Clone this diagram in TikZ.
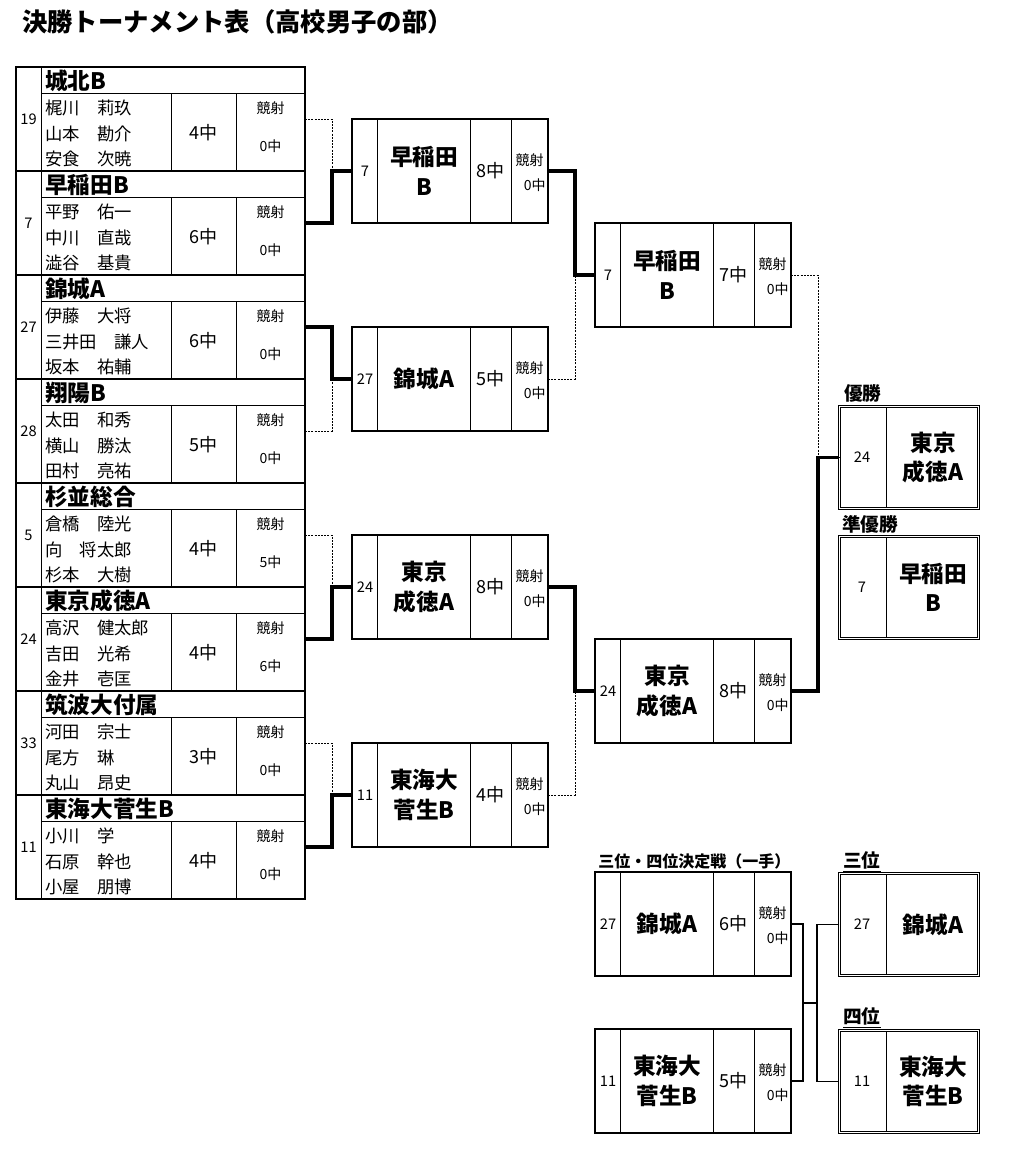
\documentclass[tikz,border=0pt]{standalone}
\usepackage{fontspec}
\setmainfont{Noto Sans CJK JP}
\tikzset{
  blk/.style={draw,line width=1.7pt,inner sep=0pt,outer sep=0pt},
  dbl/.style={draw,line width=0.65pt,double,double distance=0.9pt,inner sep=0pt,outer sep=0pt,minimum width=104.3pt,minimum height=76.5pt},
  inrule/.style={line width=0.7pt},
  win/.style={line width=2.6pt},
  lose/.style={line width=0.65pt,dash pattern=on 1.5pt off 0.9pt},
  third/.style={line width=1.4pt},
  seed/.style={inner sep=0pt,font=\fontsize{11}{12}\selectfont},
  tname/.style={anchor=west,inner sep=0pt,font=\bfseries\fontsize{17}{18}\selectfont},
  pname/.style={anchor=west,inner sep=0pt,font=\fontsize{13}{15}\selectfont},
  hits/.style={inner sep=0pt,font=\fontsize{13.5}{15}\selectfont},
  shoot/.style={inner sep=0pt,font=\fontsize{10.5}{12}\selectfont},
  mname/.style={inner sep=0pt,align=center,font=\bfseries\fontsize{17}{22}\selectfont},
  headlbl/.style={anchor=west,inner sep=0pt,font=\bfseries\fontsize{14}{16}\selectfont}
}
\newcommand\teamblock[9]{%
  \node[blk,minimum width=216.75pt,minimum height=78pt] (#1) at (160.5,#2+52) {};
  \draw[inrule] (41,#2) -- (41,#2+104) (41,#2+26) -- (305,#2+26)
    (171,#2+26) -- (171,#2+104) (236,#2+26) -- (236,#2+104);
  \node[seed] (#1-s) at (28.5,#2+52) {#3};
  \node[tname] (#1-t) at (45,#2+13.5) {#4};
  \node[pname] (#1-a) at (45,#2+41) {#5};
  \node[pname] (#1-b) at (45,#2+66.5) {#6};
  \node[pname] (#1-c) at (45,#2+92) {#7};
  \node[hits] (#1-h) at (203.5,#2+66) {#8};
  \node[shoot] (#1-k) at (270.5,#2+41) {競射};
  \node[shoot] (#1-o) at (270.5,#2+79) {#9};
}
\newcommand\matchbox[7]{%
  \node[blk,minimum width=147pt,minimum height=78pt] (#1) at (#2+98,#3+52) {};
  \draw[inrule] (#2+25.5,#3) -- ++(0,104) (#2+118,#3) -- ++(0,104) (#2+159,#3) -- ++(0,104);
  \node[seed] (#1-s) at (#2+13,#3+52) {#4};
  \node[mname] (#1-t) at (#2+72,#3+52) {#5};
  \node[hits] (#1-h) at (#2+138.5,#3+52) {#6};
  \node[shoot] (#1-k) at (#2+177.5,#3+41) {競射};
  \node[shoot,anchor=east] (#1-o) at (#2+194,#3+66) {#7};
}
\newcommand\placebox[5]{%
  \draw[inrule] (#2+48,#3) -- ++(0,105);
  \node[dbl] (#1) at (#2+71,#3+52.5) {};
  \node[seed] (#1-s) at (#2+24,#3+52.5) {#4};
  \node[mname] (#1-t) at (#2+95,#3+52.5) {#5};
}
\begin{document}
\begin{tikzpicture}[x=0.75pt,y=-0.75pt]
\useasboundingbox (0,0) rectangle (1018,1160);
\node[anchor=west,inner sep=0pt,font=\bfseries\fontsize{19}{21}\selectfont] (title) at (22,22) {決勝トーナメント表（高校男子の部）};
\teamblock{t1}{67}{19}{城北B}{梶川　莉玖}{山本　勘介}{安食　次暁}{4中}{0中}
\teamblock{t2}{171}{7}{早稲田B}{平野　佑一}{中川　直哉}{澁谷　基貴}{6中}{0中}
\teamblock{t3}{275}{27}{錦城A}{伊藤　大将}{三井田　謙人}{坂本　祐輔}{6中}{0中}
\teamblock{t4}{379}{28}{翔陽B}{太田　和秀}{横山　勝汰}{田村　亮祐}{5中}{0中}
\teamblock{t5}{483}{5}{杉並総合}{倉橋　陸光}{向　将太郎}{杉本　大樹}{4中}{5中}
\teamblock{t6}{587}{24}{東京成徳A}{高沢　健太郎}{吉田　光希}{金井　壱匡}{4中}{6中}
\teamblock{t7}{691}{33}{筑波大付属}{河田　宗士}{尾方　琳}{丸山　昂史}{3中}{0中}
\teamblock{t8}{795}{11}{東海大菅生B}{小川　学}{石原　幹也}{小屋　朋博}{4中}{0中}
\matchbox{r1}{352}{119}{7}{早稲田\\B}{8中}{0中}
\matchbox{r2}{352}{327}{27}{錦城A}{5中}{0中}
\matchbox{r3}{352}{535}{24}{東京\\成徳A}{8中}{0中}
\matchbox{r4}{352}{743}{11}{東海大\\菅生B}{4中}{0中}
\matchbox{s1}{595}{223}{7}{早稲田\\B}{7中}{0中}
\matchbox{s2}{595}{639}{24}{東京\\成徳A}{8中}{0中}
\matchbox{m1}{595}{872}{27}{錦城A}{6中}{0中}
\matchbox{m2}{595}{1029}{11}{東海大\\菅生B}{5中}{0中}
\placebox{w}{838}{405}{24}{東京\\成徳A}
\placebox{ru}{838}{535}{7}{早稲田\\B}
\placebox{p3}{838}{872}{27}{錦城A}
\placebox{p4}{838}{1029}{11}{東海大\\菅生B}
\node[headlbl] (winlbl) at (844,393) {優勝};
\node[headlbl] (rulbl) at (842,524) {準優勝};
\node[headlbl,font=\bfseries\fontsize{12}{14}\selectfont] (mlbl) at (598,861) {三位・四位決定戦（一手）};
\node[headlbl] (p3lbl) at (843,862) {\underline{三位}};
\node[headlbl] (p4lbl) at (843,1018) {\underline{四位}};
\draw[lose] (t1.east) -- ++(27,0) |- (r1.west);
\draw[lose] (t4.east) -- ++(27,0) |- (r2.west);
\draw[lose] (t5.east) -- ++(27,0) |- (r3.west);
\draw[lose] (t7.east) -- ++(27,0) |- (r4.west);
\draw[win] (t2.east) -- ++(27,0) |- (r1.west);
\draw[win] (t3.east) -- ++(27,0) |- (r2.west);
\draw[win] (t6.east) -- ++(27,0) |- (r3.west);
\draw[win] (t8.east) -- ++(27,0) |- (r4.west);
\draw[lose] (r2.east) -- ++(27,0) |- (s1.west);
\draw[lose] (r4.east) -- ++(27,0) |- (s2.west);
\draw[win] (r1.east) -- ++(27,0) |- (s1.west);
\draw[win] (r3.east) -- ++(27,0) |- (s2.west);
\draw[lose] (s1.east) -- ++(27,0) |- (w.west);
\draw[win] (s2.east) -- ++(27,0) |- (w.west);
\coordinate (j1) at (803,1003);
\coordinate (j2) at (817,1003);
\draw[third] (m1.east) -| (j1) |- (m2.east);
\draw[third] (j1) -- (j2);
\draw[third] (p3.west) -| (j2) |- (p4.west);
\end{tikzpicture}
\end{document}
